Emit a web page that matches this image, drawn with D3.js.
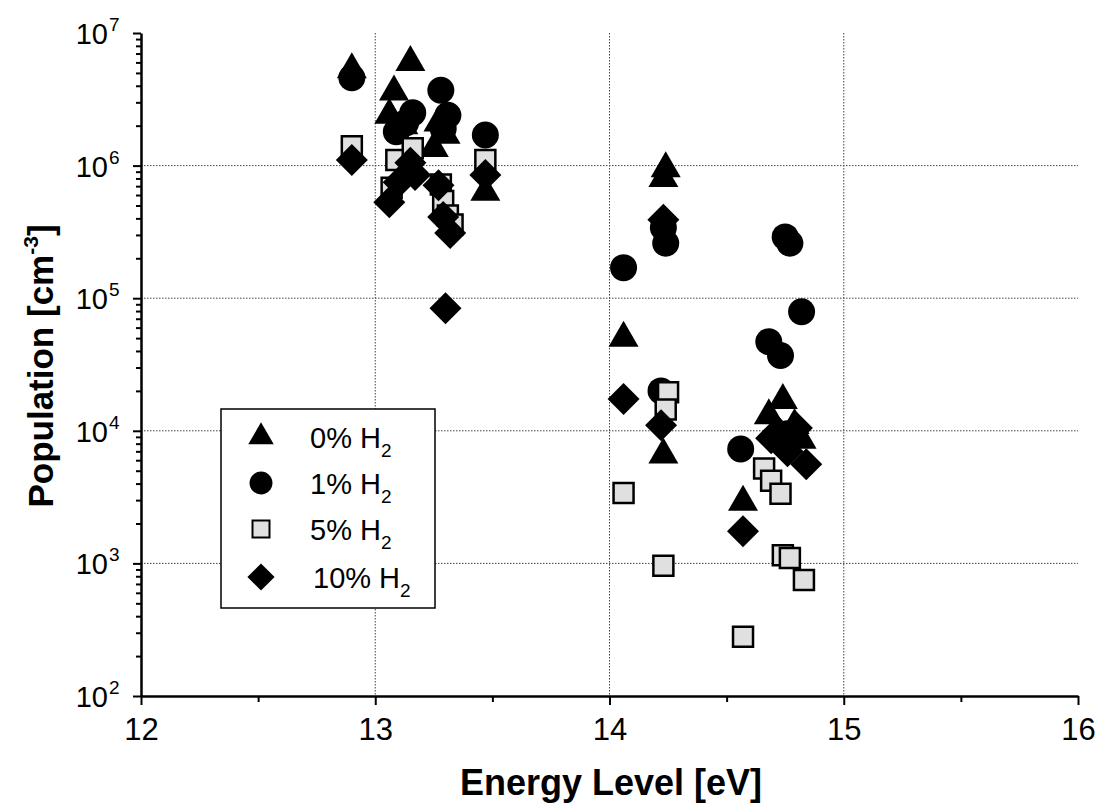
<!doctype html>
<html lang="en">
  <head>
    <meta charset="UTF-8" />
    <title>Population vs Energy Level</title>
    <script src="https://d3js.org/d3.v7.min.js"></script>
    <style>
      body {
        margin: 0;
        padding: 0;
        background: #fff;
        font-family: 'Liberation Sans', Arial, sans-serif;
      }
      .grid line {
        stroke: #444;
        stroke-width: 1;
        stroke-dasharray: 1.5, 1.5;
      }
    </style>
  </head>
  <body>
    <svg id="chart" width="1098" height="809"></svg>
    <script>
      // 0% H2 (triangles)
      const tri_x = [12.9, 13.15, 13.08, 13.06, 13.12, 13.27, 13.3, 13.25, 13.47, 14.06, 14.24, 14.23, 14.23, 14.57, 14.68, 14.74, 14.71, 14.79, 14.82];
      const tri_y = [5.3e6, 6.0e6, 3.6e6, 2.4e6, 2.0e6, 2.1e6, 1.7e6, 1.35e6, 6.3e5, 5.0e4, 9.5e5, 8.0e5, 6.6e3, 2.9e3, 1.3e4, 1.7e4, 1.0e4, 1.1e4, 8.5e3];
      // 1% H2 (circles)
      const cir_x = [12.9, 13.28, 13.16, 13.31, 13.13, 13.09, 13.29, 13.47, 14.06, 14.23, 14.24, 14.22, 14.56, 14.75, 14.77, 14.82, 14.68, 14.73, 14.76];
      const cir_y = [4.6e6, 3.7e6, 2.5e6, 2.4e6, 2.1e6, 1.8e6, 1.9e6, 1.7e6, 1.7e5, 3.4e5, 2.6e5, 2.0e4, 7.3e3, 2.9e5, 2.6e5, 7.9e4, 4.7e4, 3.7e4, 9.5e3];
      // 5% H2 (squares)
      const sq_x = [12.9, 13.09, 13.16, 13.07, 13.28, 13.29, 13.31, 13.33, 13.47, 14.06, 14.25, 14.24, 14.23, 14.57, 14.66, 14.69, 14.73, 14.74, 14.77, 14.83];
      const sq_y = [1.4e6, 1.1e6, 1.35e6, 6.8e5, 7.2e5, 5.4e5, 4.2e5, 3.6e5, 1.1e6, 3.4e3, 1.95e4, 1.45e4, 960, 280, 5.2e3, 4.2e3, 3.35e3, 1.15e3, 1.1e3, 750];
      // 10% H2 (diamonds)
      const dia_x = [12.9, 13.06, 13.1, 13.15, 13.17, 13.27, 13.29, 13.32, 13.3, 13.47, 14.06, 14.23, 14.22, 14.57, 14.69, 14.72, 14.76, 14.8, 14.84];
      const dia_y = [1.1e6, 5.3e5, 7.5e5, 1.05e6, 8.5e5, 7.1e5, 4.1e5, 3.1e5, 8.4e4, 8.5e5, 1.74e4, 3.9e5, 1.1e4, 1.75e3, 8.8e3, 9.8e3, 7.0e3, 1.05e4, 5.6e3];

      const seriesNames = ['0% H', '1% H', '5% H', '10% H'];
      const xTicks = [12, 13, 14, 15, 16];
      const yExponents = [2, 3, 4, 5, 6, 7];

      const margin = { top: 33, left: 141 };
      const width = 1078 - margin.left;
      const height = 696 - margin.top;

      const svg = d3.select('#chart');
      const g = svg.append('g').attr('transform', `translate(${margin.left},${margin.top})`);

      const x = d3.scaleLinear().domain([12, 16]).range([0, width]);
      const y = d3.scaleLog().domain([1e2, 1e7]).range([height, 0]);

      // custom marker shapes (size = half width in px)
      const triangle = {
        draw(ctx, r) {
          const h = r * Math.sqrt(3);
          ctx.moveTo(0, -h * 2 / 3);
          ctx.lineTo(r, h / 3);
          ctx.lineTo(-r, h / 3);
          ctx.closePath();
        },
      };
      const circle = {
        draw(ctx, r) {
          ctx.moveTo(r, 0);
          ctx.arc(0, 0, r, 0, 2 * Math.PI);
        },
      };
      const square = {
        draw(ctx, r) {
          ctx.rect(-r, -r, 2 * r, 2 * r);
        },
      };
      const diamond = {
        draw(ctx, r) {
          ctx.moveTo(0, -r);
          ctx.lineTo(r, 0);
          ctx.lineTo(0, r);
          ctx.lineTo(-r, 0);
          ctx.closePath();
        },
      };

      const series = [
        { xs: tri_x, ys: tri_y, type: triangle, size: 15, fill: '#000', stroke: 'none' },
        { xs: cir_x, ys: cir_y, type: circle, size: 13.5, fill: '#000', stroke: 'none' },
        { xs: sq_x, ys: sq_y, type: square, size: 10, fill: '#e0e0e0', stroke: '#000' },
        { xs: dia_x, ys: dia_y, type: diamond, size: 16, fill: '#000', stroke: 'none' },
      ];

      // gridlines
      const grid = g.append('g').attr('class', 'grid');
      grid.selectAll('.vx')
        .data([13, 14, 15])
        .enter()
        .append('line')
        .attr('x1', (d) => x(d))
        .attr('x2', (d) => x(d))
        .attr('y1', 0)
        .attr('y2', height);
      grid.selectAll('.hy')
        .data([1e3, 1e4, 1e5, 1e6])
        .enter()
        .append('line')
        .attr('x1', 0)
        .attr('x2', width)
        .attr('y1', (d) => y(d))
        .attr('y2', (d) => y(d));

      // markers
      series.forEach(function (s) {
        const sym = d3.symbol().type(s.type).size(s.size);
        g.append('g')
          .selectAll('path')
          .data(s.xs.map((v, i) => [v, s.ys[i]]))
          .enter()
          .append('path')
          .attr('d', sym)
          .attr('transform', (d) => `translate(${x(d[0])},${y(d[1])})`)
          .attr('fill', s.fill)
          .attr('stroke', s.stroke)
          .attr('stroke-width', 2.5);
      });

      // x axis
      const xMinor = d3.range(12.5, 16, 1);
      g.append('g')
        .attr('transform', `translate(0,${height})`)
        .call(d3.axisBottom(x).tickValues(xMinor).tickSize(6).tickFormat(''))
        .call((a) => a.select('.domain').remove())
        .selectAll('.tick line')
        .attr('stroke-width', 2);
      const xAxisG = g.append('g').attr('transform', `translate(0,${height})`);
      xAxisG.call(d3.axisBottom(x).tickValues(xTicks).tickSize(9).tickSizeOuter(0).tickFormat(d3.format('d')));
      xAxisG.selectAll('.domain').attr('stroke-width', 2.5);
      xAxisG.selectAll('.tick line').attr('stroke-width', 2);
      xAxisG.selectAll('text')
        .attr('font-size', 31)
        .attr('font-family', "'Liberation Sans', Arial, sans-serif")
        .attr('y', 16)
        .attr('dy', '0.9em')
        .attr('fill', '#000');

      // y axis
      const yMinor = [];
      yExponents.slice(0, -1).forEach((e) => {
        for (let k = 2; k <= 9; k++) yMinor.push(k * Math.pow(10, e));
      });
      g.append('g')
        .call(d3.axisLeft(y).tickValues(yMinor).tickSize(5).tickFormat(''))
        .call((a) => a.select('.domain').remove())
        .selectAll('.tick line')
        .attr('stroke-width', 2);
      const yAxisG = g.append('g');
      yAxisG.call(d3.axisLeft(y).tickValues(yExponents.map((e) => Math.pow(10, e))).tickSize(8).tickSizeOuter(0).tickFormat(''));
      yAxisG.selectAll('.domain').attr('stroke-width', 2.5);
      yAxisG.selectAll('.tick line').attr('stroke-width', 2);

      yExponents.forEach(function (e) {
        const yy = y(Math.pow(10, e)) + 11;
        yAxisG.append('text')
          .attr('x', -33)
          .attr('y', yy)
          .attr('text-anchor', 'end')
          .attr('font-size', 29)
          .attr('fill', '#000')
          .text('10');
        yAxisG.append('text')
          .attr('x', -32)
          .attr('y', yy - 13)
          .attr('text-anchor', 'start')
          .attr('font-size', 19)
          .attr('fill', '#000')
          .text(e);
      });

      // axis titles
      svg.append('text')
        .attr('x', 611)
        .attr('y', 795)
        .attr('text-anchor', 'middle')
        .attr('font-size', 36)
        .attr('font-weight', 'bold')
        .text('Energy Level [eV]');

      const yt = svg.append('text')
        .attr('transform', 'translate(53,366) rotate(-90)')
        .attr('text-anchor', 'middle')
        .attr('font-size', 35)
        .attr('font-weight', 'bold');
      yt.append('tspan').text('Population [cm');
      yt.append('tspan').attr('font-size', 21).attr('dy', -15).text('-3');
      yt.append('tspan').attr('dy', 15).text(']');

      // legend
      const legend = svg.append('g');
      legend.append('rect')
        .attr('x', 221)
        .attr('y', 409)
        .attr('width', 214)
        .attr('height', 199)
        .attr('fill', '#fff')
        .attr('stroke', '#000')
        .attr('stroke-width', 1.5);
      const rowY = [437, 483, 529, 577];
      series.forEach(function (s, i) {
        legend.append('path')
          .attr('d', d3.symbol().type(s.type).size(s.size * 0.85))
          .attr('transform', `translate(261,${rowY[i]})`)
          .attr('fill', s.fill)
          .attr('stroke', s.stroke)
          .attr('stroke-width', 2);
        const t = legend.append('text')
          .attr('x', i === 3 ? 313 : 310)
          .attr('y', rowY[i] + 11)
          .attr('font-size', 29)
          .attr('fill', '#000');
        t.append('tspan').text(seriesNames[i]);
        t.append('tspan').attr('font-size', 19).attr('dy', 9).text('2');
      });
    </script>
  </body>
</html>
